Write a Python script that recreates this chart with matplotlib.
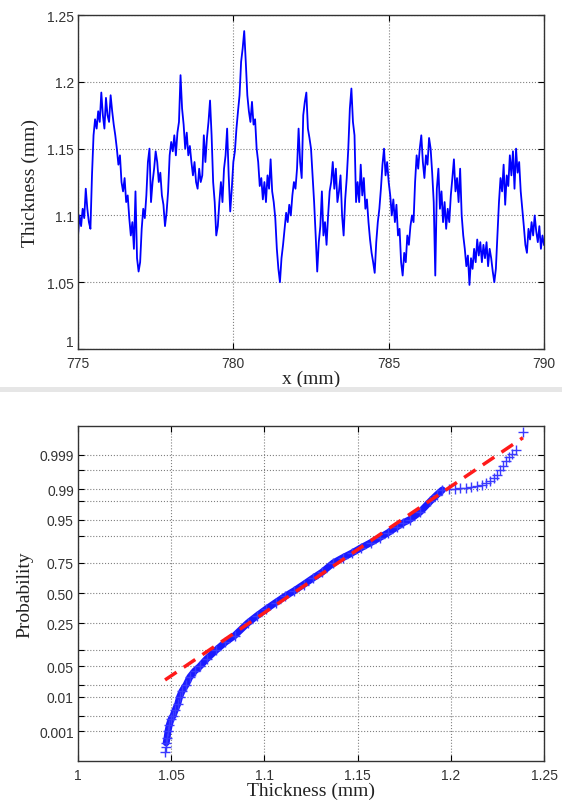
import math
import numpy as np
import matplotlib
matplotlib.use('Agg')
import matplotlib.pyplot as plt
from matplotlib.patches import Rectangle

# thickness profile, sampled every 0.05 mm from 775 to 790 mm
thickness = [
    1.085, 1.100, 1.092, 1.105, 1.098, 1.120, 1.105, 1.095, 1.090, 1.130,
    1.160, 1.172, 1.165, 1.178, 1.170, 1.192, 1.175, 1.165, 1.188, 1.175,
    1.170, 1.190, 1.178, 1.168, 1.160, 1.150, 1.138, 1.145, 1.125, 1.118,
    1.128, 1.110, 1.115, 1.098, 1.085, 1.095, 1.075, 1.118, 1.068, 1.058,
    1.065, 1.090, 1.105, 1.098, 1.115, 1.140, 1.150, 1.110, 1.125, 1.135,
    1.148, 1.140, 1.125, 1.132, 1.115, 1.108, 1.092, 1.102, 1.118, 1.145,
    1.155,
    1.148, 1.160, 1.145, 1.162, 1.170, 1.205, 1.180, 1.168, 1.150, 1.162,
    1.145, 1.152, 1.140, 1.130, 1.140, 1.125, 1.120, 1.135, 1.125, 1.130,
    1.160, 1.140, 1.158, 1.170, 1.186, 1.160, 1.125, 1.110, 1.085, 1.092,
    1.110, 1.125, 1.110, 1.135, 1.145, 1.165, 1.130, 1.103, 1.120, 1.140,
    1.148, 1.165, 1.178, 1.190, 1.215, 1.225, 1.238, 1.215, 1.190, 1.178,
    1.170, 1.185, 1.168, 1.172, 1.150, 1.140, 1.122, 1.128, 1.112,
    1.125, 1.110, 1.130, 1.120, 1.142, 1.118, 1.110, 1.098, 1.075, 1.060,
    1.050, 1.068, 1.078, 1.090, 1.102, 1.095, 1.108, 1.100, 1.115, 1.125,
    1.120, 1.135, 1.165, 1.140, 1.128, 1.175, 1.185, 1.192, 1.165, 1.158,
    1.150, 1.130, 1.110, 1.085, 1.058, 1.080, 1.092, 1.118, 1.085, 1.095,
    1.078, 1.100, 1.118, 1.125, 1.140, 1.120, 1.135, 1.110, 1.118, 1.130,
    1.100, 1.085, 1.112, 1.128, 1.150, 1.180, 1.195, 1.170, 1.160, 1.110,
    1.125, 1.110, 1.138, 1.115, 1.128, 1.105, 1.112, 1.095, 1.082, 1.072,
    1.065, 1.057, 1.080, 1.095, 1.105, 1.120, 1.138, 1.150, 1.130, 1.140,
    1.125, 1.115, 1.100, 1.112, 1.095, 1.108, 1.085, 1.090, 1.065, 1.055,
    1.072, 1.065, 1.085, 1.078, 1.092, 1.100, 1.095, 1.125, 1.145, 1.135,
    1.150, 1.160, 1.140, 1.128, 1.145, 1.138, 1.158, 1.150, 1.132, 1.110,
    1.055, 1.120, 1.135, 1.105, 1.118, 1.095, 1.110, 1.090, 1.105,
    1.095, 1.115, 1.128, 1.142, 1.118, 1.128, 1.110, 1.135, 1.100, 1.085,
    1.075, 1.062, 1.070, 1.048, 1.068, 1.060, 1.075, 1.065, 1.082, 1.070,
    1.080, 1.065, 1.078, 1.068, 1.080, 1.062, 1.075, 1.068, 1.058, 1.050,
    1.060, 1.085, 1.110, 1.128, 1.118, 1.138, 1.108, 1.130, 1.122, 1.145,
    1.130, 1.148, 1.120, 1.150, 1.132, 1.140, 1.118, 1.105, 1.092, 1.078,
    1.072, 1.090, 1.082, 1.095, 1.085, 1.100, 1.088, 1.080, 1.092, 1.075,
    1.085, 1.078,
]
position = np.linspace(775, 790, len(thickness))

# normal probability plot: sorted thickness vs cumulative probability
qq_thickness = [
    1.0467, 1.0470, 1.0473, 1.0478, 1.0483, 1.0490, 1.0500, 1.0510, 1.0522, 1.0535,
    1.0545, 1.0558, 1.0580, 1.0600, 1.0625, 1.0653, 1.0690, 1.0740, 1.0790, 1.0840,
    1.0910, 1.0960, 1.1010, 1.1060, 1.1110, 1.1160, 1.1210, 1.1260, 1.1310, 1.1370,
    1.1420, 1.1470, 1.1520, 1.1570, 1.1620, 1.1665, 1.1710, 1.1745, 1.1780, 1.1835,
    1.1890, 1.1925, 1.1955,
    1.1990, 1.2020, 1.2050, 1.2080, 1.2110, 1.2140, 1.2165, 1.2190, 1.2210, 1.2230,
    1.2250, 1.2265, 1.2280, 1.2295, 1.2310, 1.2330, 1.2350, 1.2387,
]
qq_prob = [
    0.00018, 0.00028, 0.00040, 0.00060, 0.00100, 0.0016, 0.0024, 0.0030, 0.0045, 0.0065,
    0.0100, 0.0140, 0.0200, 0.0300, 0.0400, 0.0500, 0.0700, 0.1000, 0.1350, 0.1700,
    0.2500, 0.3050, 0.3600, 0.4150, 0.4700, 0.5200, 0.5750, 0.6300, 0.6800, 0.7500,
    0.7850, 0.8150, 0.8450, 0.8700, 0.8930, 0.9120, 0.9300, 0.9420, 0.9500, 0.9650,
    0.9800, 0.9860, 0.9895,
    0.9901, 0.9903, 0.9905, 0.9908, 0.9911, 0.9915, 0.9920, 0.9930, 0.9940, 0.9950,
    0.9960, 0.9970, 0.9978, 0.9984, 0.9988, 0.9991, 0.9993, 0.99984,
]
fit_mean = 1.1156
fit_std = 0.0354

prob_ticks = [0.001, 0.003, 0.01, 0.02, 0.05, 0.10, 0.25, 0.50, 0.75, 0.90,
              0.95, 0.98, 0.99, 0.997, 0.999]
prob_labels = ['0.001', '', '0.01', '', '0.05', '', '0.25', '0.50', '0.75', '',
               '0.95', '', '0.99', '', '0.999']

erf_v = np.vectorize(math.erf, otypes=[float])


def z_to_prob(z):
    return 0.5 * (1 + erf_v(np.asarray(z, dtype=float) / math.sqrt(2)))


def prob_to_z(p):
    p = np.clip(np.asarray(p, dtype=float), 1e-12, 1 - 1e-12)
    lo = np.full(p.shape, -8.0)
    hi = np.full(p.shape, 8.0)
    for _ in range(60):
        mid = (lo + hi) / 2
        below = z_to_prob(mid) < p
        lo = np.where(below, mid, lo)
        hi = np.where(below, hi, mid)
    return (lo + hi) / 2


tick_family = ['Liberation Sans', 'DejaVu Sans']
label_font = dict(family=['Liberation Serif', 'DejaVu Serif'], size=14, color='#222222')
grid_kw = dict(linestyle=':', color='#808080', linewidth=0.8)

fig = plt.figure(figsize=(5.62, 8.03), dpi=100)
fig.patches.append(Rectangle((0, 0.510), 1, 0.007, transform=fig.transFigure,
                             facecolor='#e6e6e6', edgecolor='none'))


def style_axes(ax):
    ax.grid(True, **grid_kw)
    ax.tick_params(direction='in', length=4, top=True, right=True, width=0.8,
                   labelsize=10, labelcolor='#333333', pad=3)
    ax.tick_params(axis='x', pad=5)
    for lab in ax.get_xticklabels() + ax.get_yticklabels():
        lab.set_family(tick_family)
    for sp in ax.spines.values():
        sp.set_color('#333333')
        sp.set_linewidth(1.0)


# top: thickness profile
ax1 = fig.add_axes([0.1388, 0.5641, 0.8292, 0.4159])
ax1.plot(position, thickness, color='#0000ff', linewidth=1.3)
ax1.set_xlim(775, 790)
ax1.set_ylim(1, 1.25)
ax1.set_xticks([775, 780, 785, 790])
ax1.set_yticks([1, 1.05, 1.1, 1.15, 1.2, 1.25])
ax1.set_yticklabels(['1', '1.05', '1.1', '1.15', '1.2', '1.25'])
ax1.set_xlabel('x (mm)', labelpad=0, **label_font)
ax1.set_ylabel('Thickness (mm)', labelpad=6, **label_font)
style_axes(ax1)
ax1.get_yticklabels()[0].set_verticalalignment('bottom')

# bottom: normal probability plot
ax2 = fig.add_axes([0.1388, 0.0511, 0.8292, 0.4172])
ax2.set_yscale('function', functions=(prob_to_z, z_to_prob))
fit_x = np.array([min(qq_thickness), max(qq_thickness)])
fit_p = z_to_prob((fit_x - fit_mean) / fit_std)
body = slice(2, 43)
ax2.plot(qq_thickness[body], qq_prob[body], color='#1a1aff', linewidth=5,
         solid_capstyle='round', zorder=3)
ax2.plot(qq_thickness, qq_prob, linestyle='none', marker='+', markersize=7,
         markeredgewidth=1.0, color='#3a3aff', zorder=4)
ax2.plot(fit_x, fit_p, color='#ff1a1a', linewidth=2.5, linestyle=(0, (4, 2.5)),
         zorder=5)
ax2.set_xlim(1, 1.25)
ax2.set_ylim(z_to_prob(-3.76), z_to_prob(3.74))
ax2.set_xticks([1, 1.05, 1.1, 1.15, 1.2, 1.25])
ax2.set_xticklabels(['1', '1.05', '1.1', '1.15', '1.2', '1.25'])
ax2.set_yticks(prob_ticks)
ax2.set_yticklabels(prob_labels)
ax2.minorticks_off()
ax2.set_xlabel('Thickness (mm)', labelpad=0, **label_font)
ax2.set_ylabel('Probability', labelpad=4, **label_font)
style_axes(ax2)

fig.savefig('out.png', dpi=100)
